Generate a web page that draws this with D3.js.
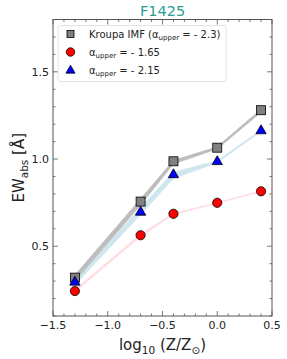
<!DOCTYPE html>
<html>
<head>
<meta charset="utf-8">
<script src="https://cdn.jsdelivr.net/npm/d3@7"></script>
<style>
  body { margin: 0; background: #fff; }
  text { font-family: "DejaVu Sans", sans-serif; }
</style>
</head>
<body>
<svg id="chart" width="287" height="359"></svg>
<script>
// metallicity grid
const logZ = [-1.3, -0.7, -0.4, 0.0, 0.4]

// Kroupa IMF (alpha upper = -2.3)
const kroupa = [0.32, 0.756, 0.987, 1.065, 1.28]
const kroupaLo = [0.30, 0.735, 0.972, 1.058, 1.268]
const kroupaHi = [0.335, 0.772, 0.992, 1.070, 1.285]

// alpha upper = -1.65
const flat = [0.243, 0.563, 0.686, 0.749, 0.815]
const flatLo = [0.238, 0.555, 0.681, 0.746, 0.812]
const flatHi = [0.252, 0.570, 0.689, 0.751, 0.817]

// alpha upper = -2.15
const mid = [0.294, 0.695, 0.910, 0.985, 1.162]
const midLo = [0.278, 0.680, 0.888, 0.978, 1.158]
const midHi = [0.305, 0.722, 0.925, 0.990, 1.166]

const xTicks = [-1.5, -1.0, -0.5, 0.0, 0.5]
const yTicks = [0.5, 1.0, 1.5]

const margin = { top: 19.5, right: 15, bottom: 43, left: 53 }
const width = 287 - margin.left - margin.right
const height = 359 - margin.top - margin.bottom

const svg = d3.select('#chart')
const g = svg.append('g')
  .attr('transform', 'translate(' + margin.left + ',' + margin.top + ')')

const x = d3.scaleLinear().domain([-1.5, 0.5]).range([0, width])
const y = d3.scaleLinear().domain([0.1, 1.8]).range([height, 0])

// bands (drawn first, under the markers)
const series = [
  { key: 'kroupa', vals: kroupa, lo: kroupaLo, hi: kroupaHi, band: '#bdbdbd', lw: 1.6 },
  { key: 'mid', vals: mid, lo: midLo, hi: midHi, band: '#cfe6ee', lw: 1 },
  { key: 'flat', vals: flat, lo: flatLo, hi: flatHi, band: '#ffdde2', lw: 0.8 }
]

const area = d3.area()
  .x((d, i) => x(logZ[i]))
  .y0(d => y(d[0]))
  .y1(d => y(d[1]))

const line = d3.line()
  .x((d, i) => x(logZ[i]))
  .y(d => y(d))

series.slice().reverse().forEach(s => {
  const pairs = s.lo.map((v, i) => [v, s.hi[i]])
  g.append('path')
    .attr('d', area(pairs))
    .attr('fill', s.band)
    .attr('stroke', s.band)
    .attr('stroke-width', 0.6)
  g.append('path')
    .attr('d', line(s.vals))
    .attr('fill', 'none')
    .attr('stroke', s.band)
    .attr('stroke-width', s.lw)
})

// axes frame
g.append('rect')
  .attr('width', width)
  .attr('height', height)
  .attr('fill', 'none')
  .attr('stroke', '#555')
  .attr('stroke-width', 1)

function drawTicks () {
  const xs = d3.range(-15, 6).map(d => d / 10)
  const ys = d3.range(1, 19).map(d => d / 10)
  xs.forEach(v => {
    const big = xTicks.some(t => Math.abs(t - v) < 1e-9)
    const len = big ? 5 : 2.5
    g.append('line').attr('x1', x(v)).attr('x2', x(v))
      .attr('y1', height).attr('y2', height - len)
      .attr('stroke', '#555').attr('stroke-width', 0.8)
    g.append('line').attr('x1', x(v)).attr('x2', x(v))
      .attr('y1', 0).attr('y2', len)
      .attr('stroke', '#555').attr('stroke-width', 0.8)
  })
  ys.forEach(v => {
    const big = yTicks.some(t => Math.abs(t - v) < 1e-9)
    const len = big ? 5 : 2.5
    g.append('line').attr('y1', y(v)).attr('y2', y(v))
      .attr('x1', 0).attr('x2', len)
      .attr('stroke', '#555').attr('stroke-width', 0.8)
    g.append('line').attr('y1', y(v)).attr('y2', y(v))
      .attr('x1', width).attr('x2', width - len)
      .attr('stroke', '#555').attr('stroke-width', 0.8)
  })
}
drawTicks()

// tick labels
g.selectAll('.xt').data(xTicks).enter().append('text')
  .attr('x', d => x(d))
  .attr('y', height + 13)
  .attr('text-anchor', 'middle')
  .attr('font-size', 11)
  .attr('fill', '#222')
  .text(d => d3.format('.1f')(d).replace('-', '\u2212'))

g.selectAll('.yt').data(yTicks).enter().append('text')
  .attr('x', -4)
  .attr('y', d => y(d) + 4)
  .attr('text-anchor', 'end')
  .attr('font-size', 11)
  .attr('fill', '#222')
  .text(d => d3.format('.1f')(d))

// markers
const sq = 9
g.selectAll('.kr').data(kroupa).enter().append('rect')
  .attr('x', (d, i) => x(logZ[i]) - sq / 2)
  .attr('y', d => y(d) - sq / 2)
  .attr('width', sq).attr('height', sq)
  .attr('fill', '#808080').attr('stroke', '#000').attr('stroke-width', 0.8)

const tri = d3.symbol().type(d3.symbolTriangle).size(46)
g.selectAll('.md').data(mid).enter().append('path')
  .attr('d', tri)
  .attr('transform', (d, i) => 'translate(' + x(logZ[i]) + ',' + y(d) + ')')
  .attr('fill', '#0000ff').attr('stroke', '#000').attr('stroke-width', 0.8)

g.selectAll('.fl').data(flat).enter().append('circle')
  .attr('cx', (d, i) => x(logZ[i]))
  .attr('cy', d => y(d))
  .attr('r', 4.6)
  .attr('fill', '#ff0000').attr('stroke', '#000').attr('stroke-width', 0.8)

// legend
const lg = g.append('g').attr('transform', 'translate(5,6)')
lg.append('rect')
  .attr('width', 168).attr('height', 56).attr('rx', 2)
  .attr('fill', '#fff').attr('stroke', '#ddd').attr('stroke-width', 0.8)

lg.append('rect').attr('x', 9).attr('y', 5).attr('width', 7).attr('height', 7)
  .attr('fill', '#808080').attr('stroke', '#000').attr('stroke-width', 0.8)
lg.append('circle').attr('cx', 12.5).attr('cy', 26.5).attr('r', 4.2)
  .attr('fill', '#ff0000').attr('stroke', '#000').attr('stroke-width', 0.8)
lg.append('path').attr('d', d3.symbol().type(d3.symbolTriangle).size(36))
  .attr('transform', 'translate(12.5,45)')
  .attr('fill', '#0000ff').attr('stroke', '#000').attr('stroke-width', 0.8)

const labels = [
  ['Kroupa IMF (\u03b1', 'upper', ' = - 2.3)'],
  ['\u03b1', 'upper', ' = - 1.65'],
  ['\u03b1', 'upper', ' = - 2.15']
]
labels.forEach((l, i) => {
  const t = lg.append('text')
    .attr('x', 31).attr('y', 12 + i * 18)
    .attr('font-size', 10).attr('fill', '#222')
  t.append('tspan').text(l[0])
  t.append('tspan').attr('dy', 2.5).attr('font-size', 7).text(l[1])
  t.append('tspan').attr('dy', -2.5).text(l[2])
})

// title
svg.append('text')
  .attr('x', margin.left + width / 2)
  .attr('y', 15.5)
  .attr('text-anchor', 'middle')
  .attr('font-size', 14.5)
  .attr('fill', '#2a9d96')
  .text('F1425')

// axis labels
const xl = svg.append('text')
  .attr('x', margin.left + width / 2)
  .attr('y', 350)
  .attr('text-anchor', 'middle')
  .attr('font-size', 15)
  .attr('fill', '#222')
xl.append('tspan').text('log')
xl.append('tspan').attr('dy', 3.5).attr('font-size', 10.5).text('10')
xl.append('tspan').attr('dy', -3.5).text(' (Z/Z')
xl.append('tspan').attr('dy', 3.5).attr('font-size', 10.5).text('\u2299')
xl.append('tspan').attr('dy', -3.5).text(')')

const yl = svg.append('text')
  .attr('transform', 'translate(24,' + (margin.top + height / 2) + ') rotate(-90)')
  .attr('text-anchor', 'middle')
  .attr('font-size', 15)
  .attr('fill', '#222')
yl.append('tspan').text('EW')
yl.append('tspan').attr('dy', 3.5).attr('font-size', 10.5).text('abs')
yl.append('tspan').attr('dy', -3.5).text(' [\u00c5]')
</script>
</body>
</html>
